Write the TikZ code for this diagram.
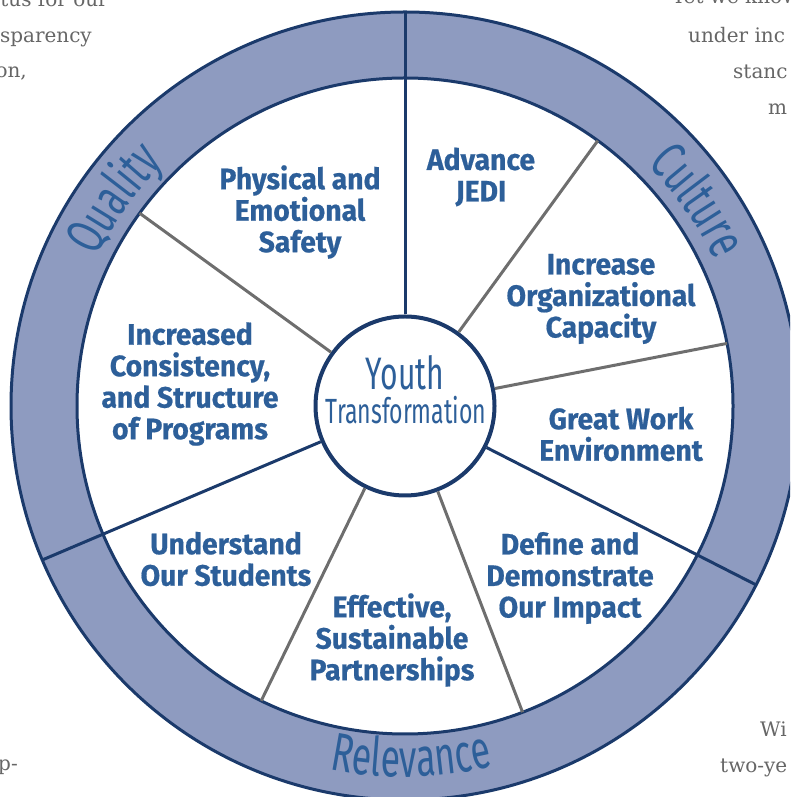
\documentclass[tikz,border=0pt]{standalone}
\usepackage{fontspec}
\usetikzlibrary{decorations.text,calc}
\newfontfamily\labfont[FakeStretch=0.96,BoldFeatures={FakeBold=0.6}]{Fira Sans}
\newfontfamily\condfont[FakeStretch=0.66]{Fira Sans}
\newfontfamily\bgfont{DejaVu Serif}
\definecolor{ringfill}{HTML}{8E9BC0}
\definecolor{navy}{HTML}{1B3A6B}
\definecolor{greyline}{HTML}{6E6E6E}
\definecolor{txtblue}{HTML}{2D5F99}
\definecolor{bgtxt}{HTML}{666666}
\tikzset{
  navyln/.style={draw=navy, line width=3pt},
  greyln/.style={draw=greyline, line width=3pt},
  lbl/.style={align=center, inner sep=0pt, text=txtblue,
    font=\labfont\bfseries\fontsize{29.5}{31.5}\selectfont},
  bgt/.style={inner sep=0pt, text=bgtxt, font=\bgfont\fontsize{20}{24}\selectfont},
}
\begin{document}
\begin{tikzpicture}[x=1pt,y=1pt]
\useasboundingbox (0,0) rectangle (790,797);
\begin{scope}
\clip (0,0) rectangle (790,797);
% background text fragments
\node[bgt, anchor=base east] (b1) at (108,790) {tus for our};
\node[bgt, anchor=base east] (b2) at (92,754) {sparency};
\node[bgt, anchor=base east] (b3) at (27,719) {on,};
\node[bgt, anchor=base west] (b4) at (672,793) {Yet we know};
\node[bgt, anchor=base west] (b5) at (688,754) {under inc};
\node[bgt, anchor=base west] (b6) at (733,718) {stanc};
\node[bgt, anchor=base west] (b7) at (768,682) {m};
\node[bgt, anchor=base east] (b8) at (18,27) {p-};
\node[bgt, anchor=base west] (b9) at (760,60) {Wi};
\node[bgt, anchor=base west] (b10) at (720,24) {two-ye};
% ring
\coordinate (C) at (405,391);
\fill[ringfill, even odd rule] (C) circle (394) (C) circle (328);
\draw[navyln] (C) circle (394);
\draw[navyln] (C) circle (328);
% hub
\node[circle, draw=navy, line width=4pt, fill=white, minimum size=179pt, inner sep=0pt] (hub) at (C) {};
\foreach \a in {54,11,-69,-116,144}
  \draw[greyln] (hub.\a) -- ($(C)+(\a:328)$);
\foreach \a in {90,-27,-157}
  \draw[navyln] (hub.\a) -- ($(C)+(\a:394)$);
\node[anchor=base, inner sep=0pt, text=txtblue, font=\condfont\fontsize{45.5}{45}\selectfont] (y1) at (405,407) {Youth};
\node[anchor=base, inner sep=0pt, text=txtblue, font=\condfont\fontsize{35}{36}\selectfont] (y2) at (406,373) {Transformation};
% ring labels
\path[decorate, decoration={text along path, text align=center,
  text={|\condfont\fontsize{54}{54}\selectfont\color{txtblue}|Quality}}]
  ($(C)+(180:342)$) arc[start angle=180, end angle=109, radius=342];
\path[decorate, decoration={text along path, text align=center,
  text={|\condfont\fontsize{54}{54}\selectfont\color{txtblue}|Culture}}]
  ($(C)+(70:342)$) arc[start angle=70, end angle=0, radius=342];
\path[decorate, decoration={text along path, text align=center,
  text={|\condfont\fontsize{54}{54}\selectfont\color{txtblue}|Relevance}}]
  ($(C)+(-134:371)$) arc[start angle=-134, end angle=-44, radius=371];
% sector labels
\node[lbl] (s1) at (300,585) {Physical and\\Emotional\\Safety};
\node[lbl] (s2) at (481,620) {Advance\\JEDI};
\node[lbl] (s3) at (601,498) {Increase\\Organizational\\Capacity};
\node[lbl] (s4) at (621,363) {Great Work\\Environment};
\node[lbl] (s5) at (570,219) {Define and\\Demonstrate\\Our Impact};
\node[lbl] (s6) at (392,157) {Effective,\\Sustainable\\Partnerships};
\node[lbl] (s7) at (226,238) {Understand\\Our Students};
\node[lbl] (s8) at (190,413) {Increased\\Consistency,\\and Structure\\of Programs};
\end{scope}
\end{tikzpicture}
\end{document}
